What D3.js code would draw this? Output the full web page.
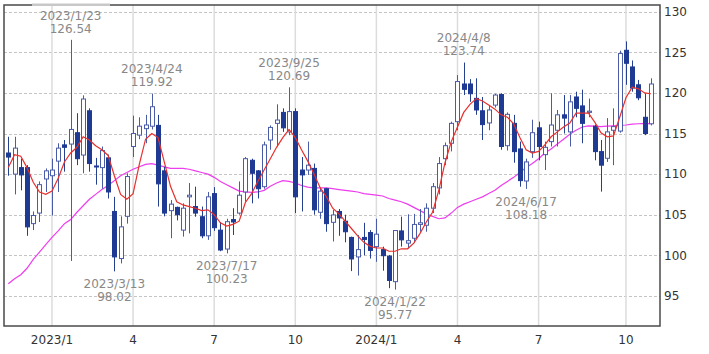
<!DOCTYPE html>
<html>
<head>
<meta charset="utf-8">
<script src="https://cdn.jsdelivr.net/npm/d3@7"></script>
<style>
  body { margin: 0; background: #fff; }
  svg text { font-family: "DejaVu Sans", Verdana, sans-serif; }
</style>
</head>
<body>
<div id="container"></div>
<script>
/* CONSTANTS AND GLOBALS */
const width = 709,
  height = 354,
  plot = { left: 4, right: 660, top: 5, bottom: 326 };

/* DATA (weekly candles) */
const firstWeek = "2022-11-14",
  lastWeek = "2024-11-04";

const opens = [
  112.6, 110.0, 110.8, 110.8, 103.9, 105.2, 109.4, 109.8, 111.6, 113.6,
  113.7, 115.1, 112.35, 117.8, 111.0, 110.8, 112.0, 105.4, 99.6, 104.8,
  113.4, 114.8, 115.6, 115.9, 116.0, 110.4, 105.5, 105.9, 103.1, 107.2,
  106.0, 104.75, 102.4, 107.6, 103.1, 100.77, 104.4, 105.2, 107.8, 111.7,
  110.4, 108.45, 114.2, 116.25, 117.6, 115.2, 117.7, 110.5, 110.5, 110.7,
  105.3, 108.2, 104.06, 105.4, 104.2, 102.2, 99.8, 102.2, 102.8, 101.07,
  100.7, 99.9, 96.75, 103.0, 101.5, 102.1, 103.8, 103.7, 105.8, 108.3,
  111.9, 113.8, 116.46, 121.1, 121.1, 119.33, 117.8, 116.3, 118.5, 119.8,
  113.5, 116.25, 113.1, 109.15, 112.77, 115.7, 112.4, 114.0, 115.4, 117.3,
  115.2, 119.5, 118.4, 117.6, 115.9, 112.77, 111.95, 115.4, 115.3, 125.25,
  123.2, 121.0, 117.0, 116.2
];
const highs = [
  114.6, 114.6, 111.9, 111.1, 105.4, 109.1, 110.7, 111.9, 113.8, 114.2,
  126.54, 117.5, 119.7, 118.1, 112.0, 113.4, 112.4, 107.2, 104.8, 110.1,
  117.2, 117.0, 117.3, 119.92, 117.3, 110.9, 106.8, 106.0, 106.4, 108.9,
  108.45, 106.0, 107.8, 108.4, 104.1, 104.5, 105.8, 109.1, 112.1, 111.9,
  110.5, 114.0, 116.0, 118.6, 118.1, 120.69, 118.1, 112.1, 114.0, 111.3,
  108.3, 108.3, 105.6, 105.7, 105.0, 102.3, 102.5, 104.0, 103.1, 104.5,
  101.06, 100.04, 103.1, 104.76, 105.05, 105.1, 105.7, 106.4, 108.9, 112.1,
  113.9, 116.46, 122.2, 123.74, 121.7, 121.8, 119.5, 118.4, 119.9, 119.95,
  117.6, 117.3, 114.0, 111.9, 116.7, 116.46, 114.0, 119.95, 117.9, 119.74,
  119.74, 120.15, 120.4, 119.3, 116.1, 114.2, 116.9, 118.1, 125.2, 126.35,
  124.0, 121.6, 119.95, 121.8
];
const lows = [
  109.8, 107.5, 108.0, 102.4, 103.1, 104.1, 107.8, 104.9, 107.8, 110.3,
  99.3, 111.1, 110.1, 110.3, 108.7, 108.2, 107.0, 98.02, 99.0, 103.9,
  112.1, 114.3, 113.8, 115.5, 106.0, 104.8, 102.1, 104.3, 102.3, 102.7,
  104.75, 102.1, 101.9, 103.0, 100.5, 100.23, 102.5, 105.0, 106.6, 106.4,
  107.0, 108.2, 113.0, 113.4, 115.2, 114.8, 105.2, 105.4, 109.9, 105.0,
  104.5, 102.9, 101.7, 102.4, 101.6, 98.05, 97.5, 100.0, 99.6, 99.2,
  98.1, 95.95, 95.77, 101.07, 100.86, 101.5, 102.9, 102.9, 105.2, 107.5,
  111.1, 112.8, 115.4, 119.74, 118.9, 117.3, 114.2, 115.4, 118.2, 113.0,
  112.9, 111.4, 108.45, 108.18, 112.0, 111.7, 110.5, 113.4, 113.4, 115.0,
  113.4, 117.0, 113.8, 117.0, 111.7, 107.84, 111.5, 111.1, 115.1, 121.0,
  120.15, 119.1, 114.8, 116.0
];
const closes = [
  112.1, 113.2, 109.9, 103.5, 104.9, 108.7, 110.4, 110.5, 113.2, 113.3,
  115.5, 111.9, 119.25, 111.3, 110.9, 112.9, 107.8, 99.8, 103.5, 109.7,
  115.0, 115.9, 116.05, 118.3, 108.8, 105.2, 106.3, 105.0, 105.8, 107.4,
  105.2, 102.4, 107.2, 103.4, 100.65, 104.14, 104.1, 107.4, 111.9, 110.1,
  108.2, 113.6, 115.75, 116.66, 115.7, 117.7, 107.2, 109.9, 111.1, 105.6,
  107.9, 103.9, 104.97, 104.6, 102.9, 99.55, 100.7, 101.95, 100.6, 102.6,
  99.95, 96.9, 103.05, 101.9, 101.8, 103.8, 104.0, 105.8, 108.45, 111.3,
  113.5, 116.25, 121.4, 120.44, 119.9, 117.9, 116.1, 117.9, 119.74, 113.4,
  117.36, 112.77, 109.2, 111.5, 115.1, 113.4, 113.3, 116.05, 117.3, 116.9,
  118.9, 118.1, 116.25, 117.75, 112.77, 111.1, 115.2, 115.85, 124.85, 123.65,
  120.6, 119.4, 115.0, 121.1
];
// short moving average (red)
const maShort = [
  110.8, 112.4, 112.2, 110.8, 109.0, 107.8, 107.5, 107.9, 109.5, 111.5,
  112.6, 113.3, 114.6, 114.2, 113.5, 113.0, 112.3, 109.8, 107.5, 106.9,
  107.6, 111.2, 114.3, 115.0, 114.5, 111.5, 108.5, 106.6, 106.2, 106.0,
  105.8, 105.5, 105.6, 105.0, 104.0, 103.6, 103.8, 104.2, 106.5, 107.6,
  109.1, 110.5, 111.9, 113.3, 114.5, 115.5, 114.5, 113.0, 111.6, 110.0,
  108.3, 107.2, 105.8, 105.1, 104.2, 103.3, 102.4, 101.6, 101.1, 100.9,
  100.9, 100.5, 100.5, 100.8, 100.8, 101.5, 102.7, 104.1, 105.3, 108.0,
  111.4, 114.0, 115.8, 117.6, 118.6, 119.3, 119.0, 118.5, 118.0, 117.3,
  117.0, 116.2, 114.5, 113.0, 112.6, 112.8, 113.6, 114.6, 115.2, 115.8,
  116.3, 117.5, 117.5, 117.5, 116.4, 115.1, 114.6, 114.7, 117.0, 119.4,
  120.7, 120.5, 120.0, 119.9
];
// long moving average (magenta)
const maLong = [
  96.5, 97.1, 97.6, 98.4, 99.5, 100.4, 101.3, 102.2, 103.0, 103.9,
  104.4, 105.3, 106.1, 106.9, 107.5, 108.1, 108.6, 109.2, 109.8, 110.2,
  110.6, 110.9, 111.2, 111.3, 111.1, 110.9, 110.7, 110.7, 110.7, 110.6,
  110.4, 110.2, 110.0, 109.6, 109.1, 108.7, 108.3, 107.9, 107.8, 107.75,
  107.8, 108.0, 108.5, 108.9, 109.2, 109.1, 108.9, 108.6, 108.4, 108.3,
  108.3, 108.3, 108.2, 108.1, 108.0, 107.9, 107.8, 107.6, 107.5, 107.4,
  107.3, 107.0, 106.8, 106.6, 106.3, 105.9, 105.5, 105.1, 104.8, 104.5,
  104.6, 105.2, 105.9, 106.3, 106.6, 106.9, 107.2, 107.6, 108.0, 108.6,
  109.1, 109.6, 110.2, 110.8, 111.3, 111.9, 112.6, 113.1, 113.7, 114.3,
  114.9, 115.4, 115.8, 115.95, 115.9, 115.85, 115.9, 115.95, 116.0, 116.05,
  116.15, 116.2, 116.25, 116.2
];

const yTicks = [95, 100, 105, 110, 115, 120, 125, 130];
const xTickDates = ["2023-01-02", "2023-04-03", "2023-07-03", "2023-10-02",
  "2024-01-01", "2024-04-01", "2024-07-01", "2024-10-07"];
const xTickLabels = ["2023/1", "4", "7", "10", "2024/1", "4", "7", "10"];

const noteDates = ["2023-01-23", "2023-03-13", "2023-04-24", "2023-07-17",
  "2023-09-25", "2024-01-22", "2024-04-08", "2024-06-17"];
const noteTexts = ["2023/1/23", "2023/3/13", "2023/4/24", "2023/7/17",
  "2023/9/25", "2024/1/22", "2024/4/8", "2024/6/17"];
const noteValues = [126.54, 98.02, 119.92, 100.23, 120.69, 95.77, 123.74, 108.18];
const noteKinds = ["high", "low", "high", "low", "high", "low", "high", "low"];

const parse = d3.utcParse("%Y-%m-%d");
const weeks = d3.utcMonday.range(parse(firstWeek), d3.utcDay.offset(parse(lastWeek), 1));
const candles = weeks.map((d, i) => ({
  date: d, o: opens[i], h: highs[i], l: lows[i], c: closes[i],
  m1: maShort[i], m2: maLong[i]
}));

/* SCALES */
const xScale = d3.scaleUtc()
  .domain([new Date(Date.UTC(2022, 10, 9, 4, 13)), new Date(Date.UTC(2024, 10, 14, 5, 0))])
  .range([plot.left, plot.right]);

const yScale = d3.scaleLinear()
  .domain([91.29, 130.83])
  .range([plot.bottom, plot.top]);

const svg = d3.select("#container")
  .append("svg")
  .attr("width", width)
  .attr("height", height);

svg.append("defs").append("clipPath").attr("id", "clip")
  .append("rect")
  .attr("x", plot.left).attr("y", plot.top)
  .attr("width", plot.right - plot.left).attr("height", plot.bottom - plot.top);

/* GRID */
svg.append("g")
  .selectAll("line")
  .data(yTicks)
  .join("line")
  .attr("x1", plot.left).attr("x2", plot.right)
  .attr("y1", d => Math.round(yScale(d)) + 0.5)
  .attr("y2", d => Math.round(yScale(d)) + 0.5)
  .attr("stroke", "#c4c4c4")
  .attr("stroke-dasharray", "3,2");

svg.append("g")
  .selectAll("line")
  .data(xTickDates)
  .join("line")
  .attr("x1", d => xScale(parse(d))).attr("x2", d => xScale(parse(d)))
  .attr("y1", plot.top).attr("y2", plot.bottom)
  .attr("stroke", "#dcdcdc")
  .attr("stroke-width", 1.5);

/* MOVING AVERAGES */
const plotG = svg.append("g").attr("clip-path", "url(#clip)");

const line = key => d3.line()
  .x(d => xScale(d.date))
  .y(d => yScale(d[key]));

plotG.append("path")
  .datum(candles)
  .attr("fill", "none")
  .attr("stroke", "#ee3ded")
  .attr("stroke-width", 1.2)
  .attr("d", line("m2"));

/* CANDLES */
const cx = d => Math.round(xScale(d.date));

plotG.selectAll(".wick")
  .data(candles)
  .join("line")
  .attr("class", "wick")
  .attr("x1", d => cx(d) + 0.5).attr("x2", d => cx(d) + 0.5)
  .attr("y1", d => yScale(d.h)).attr("y2", d => yScale(d.l))
  .attr("stroke", d => d.c >= d.o ? "#4a5ca6" : "#25408f")
  .attr("stroke-width", 1);

plotG.selectAll(".body")
  .data(candles)
  .join("rect")
  .attr("class", "body")
  .attr("x", d => cx(d) - 1.5)
  .attr("width", 4)
  .attr("y", d => yScale(Math.max(d.o, d.c)))
  .attr("height", d => Math.max(1, yScale(Math.min(d.o, d.c)) - yScale(Math.max(d.o, d.c))))
  .attr("fill", d => d.c >= d.o ? "#ffffff" : "#1f3a93")
  .attr("stroke", d => d.c >= d.o ? "#4a5ca6" : "#1f3a93")
  .attr("stroke-width", 1);

plotG.append("path")
  .datum(candles)
  .attr("fill", "none")
  .attr("stroke", "#e8302c")
  .attr("stroke-width", 1.2)
  .attr("d", line("m1"));

/* FRAME */
svg.append("rect")
  .attr("x", plot.left).attr("y", plot.top)
  .attr("width", plot.right - plot.left).attr("height", plot.bottom - plot.top)
  .attr("fill", "none")
  .attr("stroke", "#4a4a4a")
  .attr("stroke-width", 1.5);

svg.append("rect")
  .attr("x", 32).attr("y", 3.5).attr("width", 78).attr("height", 2.5)
  .attr("fill", "#c8c8c8");

/* AXIS LABELS */
svg.append("g")
  .selectAll("text")
  .data(yTicks)
  .join("text")
  .attr("x", plot.right + 4)
  .attr("y", d => yScale(d))
  .attr("dy", "0.36em")
  .attr("font-size", 12)
  .attr("fill", "#333")
  .text(d => d);

svg.append("g")
  .selectAll("text")
  .data(xTickDates)
  .join("text")
  .attr("x", d => xScale(parse(d)))
  .attr("y", 340)
  .attr("dy", "0.36em")
  .attr("text-anchor", "middle")
  .attr("font-size", 12)
  .attr("fill", "#333")
  .text((d, i) => xTickLabels[i]);

/* ANNOTATIONS */
const notes = svg.append("g")
  .selectAll("g")
  .data(noteDates)
  .join("g")
  .attr("transform", (d, i) => {
    const y = yScale(noteValues[i]);
    return `translate(${xScale(parse(d))},${noteKinds[i] === "high" ? y - 24.5 : y + 12.5})`;
  })
  .attr("font-size", 12)
  .attr("fill", "#888")
  .attr("text-anchor", "middle");

notes.append("text")
  .attr("dy", "0.36em")
  .text((d, i) => noteTexts[i]);

notes.append("text")
  .attr("y", 13)
  .attr("dy", "0.36em")
  .text((d, i) => noteValues[i].toFixed(2));
</script>
</body>
</html>
